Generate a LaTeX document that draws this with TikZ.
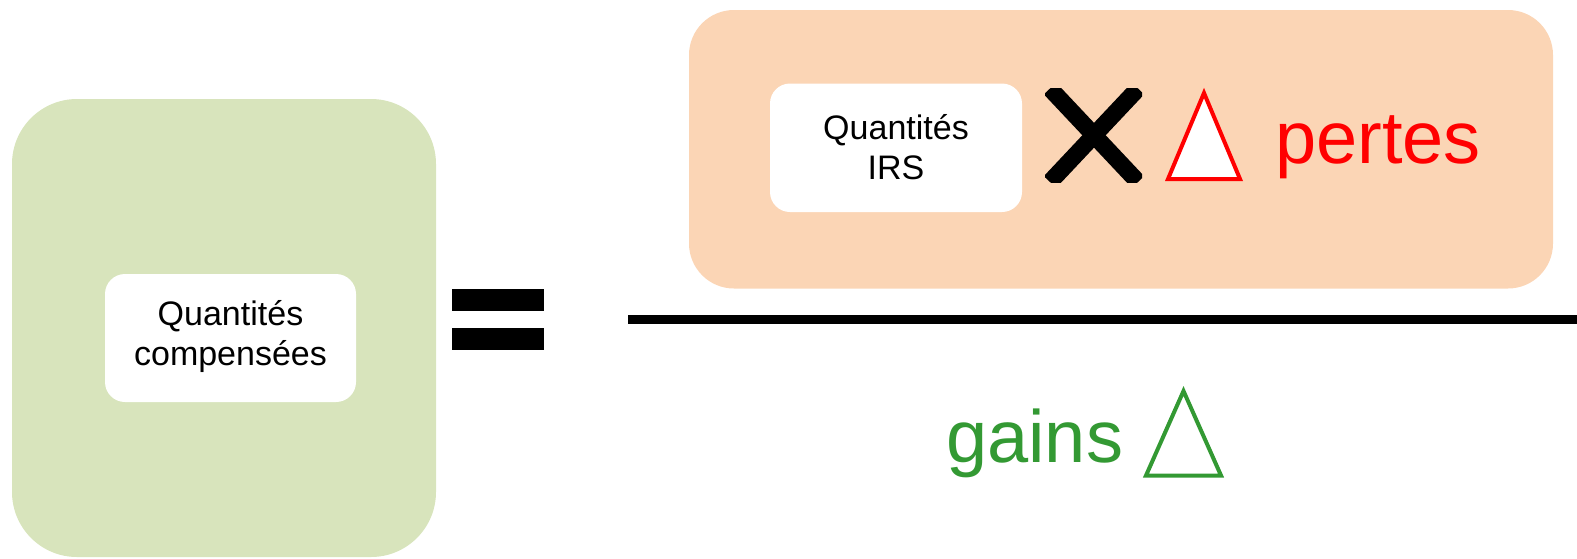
\documentclass[tikz,border=0pt]{standalone}
\usepackage{fontspec}
\setmainfont{Liberation Sans}
\definecolor{boxgreen}{HTML}{D8E4BC}
\definecolor{boxpeach}{HTML}{FBD5B5}
\definecolor{txtgreen}{HTML}{339933}
\definecolor{txtred}{HTML}{FF0000}
\begin{document}
\begin{tikzpicture}[x=1pt,y=-1pt,
  bigbox/.style={rounded corners=#1},
  whitebox/.style={fill=white,rounded corners=20pt},
  smalltxt/.style={align=center,font=\fontsize{34}{40}\selectfont,inner sep=0pt},
  bigtxt/.style={font=\fontsize{74}{80}\selectfont,inner sep=0pt,anchor=base west},
  tri/.style={line width=4pt,draw=#1,fill=white,line join=miter}]
\useasboundingbox (0,0) rectangle (1577,558);
% green left box
\fill[boxgreen,bigbox=65pt] (12,99) rectangle (436,557);
\fill[whitebox] (105,274) rectangle (356,402);
\node[smalltxt] (qc) at (230.5,337) {Quantités\\compensées};
% equals sign
\fill[black] (451.5,288.5) rectangle (544,311);
\fill[black] (451.5,328) rectangle (544,350);
% peach box
\fill[boxpeach,bigbox=45pt] (689,10) rectangle (1553,288.5);
\fill[whitebox] (770,83.5) rectangle (1022,212);
\node[smalltxt] (qi) at (896,147) {Quantités\\IRS};
% multiplication cross
\begin{scope}
\clip (1045,88.5) rectangle (1142,182);
\draw[line width=17pt] (1050,88.5) -- (1138,182);
\draw[line width=17pt] (1138,88.5) -- (1050,182);
\end{scope}
% red triangle
\draw[tri=txtred] (1204,93) -- (1240,179) -- (1168,179) -- cycle;
\node[bigtxt,text=txtred] (pertes) at (1275,163) {pertes};
% fraction line
\fill[black] (627.5,314.5) rectangle (1577,323.5);
% denominator
\node[bigtxt,text=txtgreen] (gains) at (946,462) {gains};
\draw[tri=txtgreen] (1183.5,391) -- (1221,475.5) -- (1146,475.5) -- cycle;
\end{tikzpicture}
\end{document}
